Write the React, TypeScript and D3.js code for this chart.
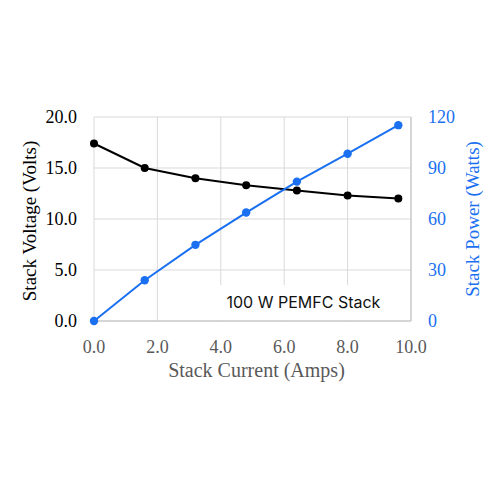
import React from "react";
import * as d3 from "d3";

const current = [0, 1.6, 3.2, 4.8, 6.4, 8.0, 9.6];
const voltage = [17.4, 15.0, 14.0, 13.3, 12.8, 12.3, 12.0];
const power = [0, 24.0, 44.8, 63.8, 82.0, 98.4, 115.2];
const xTicks = [0, 2, 4, 6, 8, 10];
const yTicks = [0, 5, 10, 15, 20];
const y2Ticks = [0, 30, 60, 90, 120];
const annotation = "100 W PEMFC Stack";

const BLUE = "#1a70f0";
const GRID = "#d9d9d9";

export default function App() {
  const left = 94, right = 411, top = 117, bottom = 321;
  const x = d3.scaleLinear().domain([0, 10]).range([left, right]);
  const y = d3.scaleLinear().domain([0, 20]).range([bottom, top]);
  const y2 = d3.scaleLinear().domain([0, 120]).range([bottom, top]);
  const vLine = d3.line<number>().x((_, i) => x(current[i])).y((d) => y(d));
  const pLine = d3.line<number>().x((_, i) => x(current[i])).y((d) => y2(d));
  const serif = "'Liberation Serif', 'Times New Roman', serif";
  return (
    <svg width={500} height={500} style={{ position: "absolute", left: 0, top: 0 }}>
      <rect width={500} height={500} fill="#fff" />
      {xTicks.map((t) => (
        <line key={"gx" + t} x1={x(t)} x2={x(t)} y1={top} y2={bottom} stroke={GRID} strokeWidth={1} />
      ))}
      {yTicks.map((t) => (
        <line key={"gy" + t} x1={left} x2={right} y1={y(t)} y2={y(t)} stroke={GRID} strokeWidth={1} />
      ))}
      <line x1={left} x2={right} y1={bottom} y2={bottom} stroke="#bfbfbf" strokeWidth={1} />
      <line x1={right} x2={right} y1={top} y2={bottom} stroke="#bfbfbf" strokeWidth={1} />
      <rect x={220} y={285} width={186} height={35} fill="#fff" />
      <text x={226.5} y={308} fontFamily="Inter, 'Noto Sans', sans-serif" fontSize={16} fill="#111">
        {annotation}
      </text>
      <path d={vLine(voltage) || ""} fill="none" stroke="#000" strokeWidth={2} />
      <path d={pLine(power) || ""} fill="none" stroke={BLUE} strokeWidth={2} />
      {voltage.map((v, i) => (
        <circle key={"v" + i} cx={x(current[i])} cy={y(v)} r={4} fill="#000" />
      ))}
      {power.map((p, i) => (
        <circle key={"p" + i} cx={x(current[i])} cy={y2(p)} r={4.2} fill={BLUE} />
      ))}
      {xTicks.map((t) => (
        <text key={"xt" + t} x={x(t)} y={353} textAnchor="middle" fontFamily={serif} fontSize={18} fill="#595959">
          {t.toFixed(1)}
        </text>
      ))}
      {yTicks.map((t) => (
        <text key={"yt" + t} x={77} y={y(t)} dy="0.35em" textAnchor="end" fontFamily={serif} fontSize={18} fill="#000">
          {t.toFixed(1)}
        </text>
      ))}
      {y2Ticks.map((t) => (
        <text key={"y2t" + t} x={428} y={y2(t)} dy="0.35em" textAnchor="start" fontFamily={serif} fontSize={18} fill={BLUE}>
          {t}
        </text>
      ))}
      <text x={(left + right) / 2 + 4} y={377} textAnchor="middle" fontFamily={serif} fontSize={20} fill="#595959">
        Stack Current (Amps)
      </text>
      <text transform={`translate(36,221) rotate(-90)`} textAnchor="middle" fontFamily={serif} fontSize={19} fill="#000">
        Stack Voltage (Volts)
      </text>
      <text transform={`translate(479,219) rotate(-90)`} textAnchor="middle" fontFamily={serif} fontSize={19} fill={BLUE}>
        Stack Power (Watts)
      </text>
    </svg>
  );
}
